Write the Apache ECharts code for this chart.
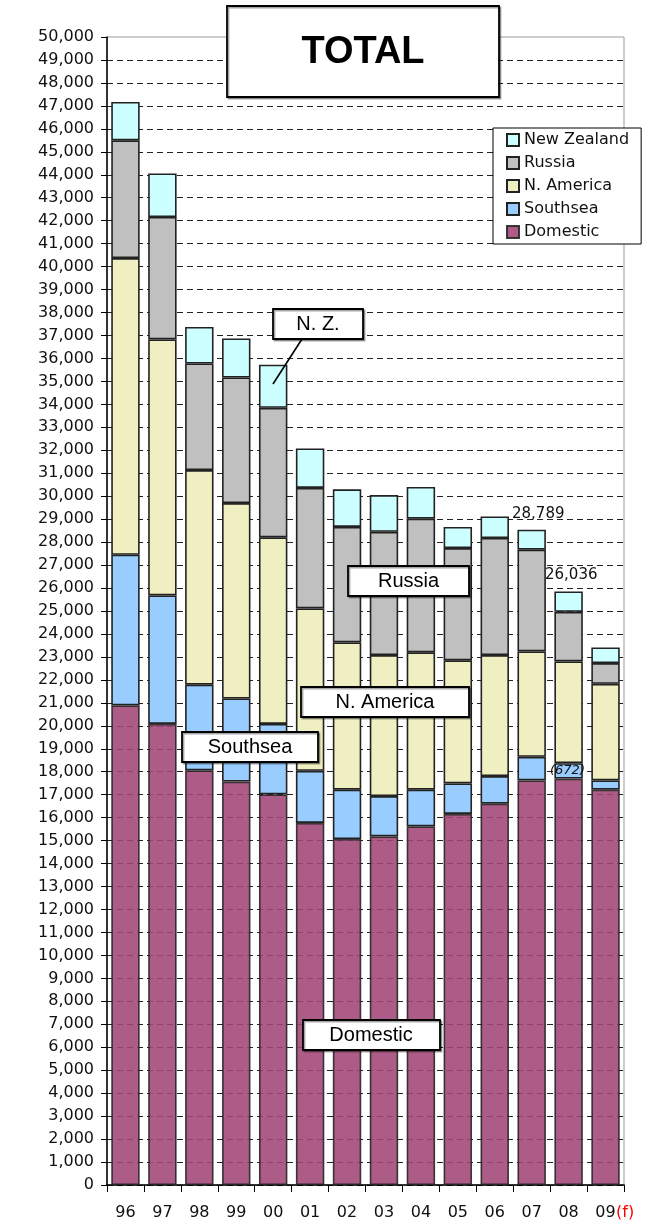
<!DOCTYPE html>
<html>
<head>
<meta charset="utf-8">
<script src="https://cdn.jsdelivr.net/npm/echarts@6/dist/echarts.min.js"></script>
<style>
html,body{margin:0;padding:0;background:#fff;}
#chart{width:653px;height:1229px;}
</style>
</head>
<body>
<div id="chart"></div>
<script>
// ---- data ----
var categories = ['96','97','98','99','00','01','02','03','04','05','06','07','08','09'];
var domestic   = [20890, 20080, 18060, 17570, 17010, 15770, 15070, 15180, 15620, 16160, 16610, 17620, 17700, 17220];
var southsea   = [6560, 5600, 3730, 3620, 3070, 2270, 2150, 1760, 1600, 1330, 1200, 1030, 672, 400];
var nAmerica   = [12920, 11150, 9350, 8510, 8130, 7070, 6410, 6140, 5980, 5360, 5270, 4590, 4430, 4210];
var russia     = [5130, 5330, 4640, 5470, 5640, 5250, 5030, 5370, 5820, 4890, 5100, 4430, 2160, 900];
var newZealand = [1670, 1900, 1590, 1700, 1880, 1720, 1640, 1600, 1380, 920, 940, 870, 890, 680];
var seriesNames = ['Domestic','Southsea','N. America','Russia','New Zealand'];
var legendOrder = ['New Zealand','Russia','N. America','Southsea','Domestic'];
var yMin = 0, yMax = 50000, yStep = 1000;

var chart = echarts.init(document.getElementById('chart'), null, {renderer:'canvas'});
var colors = ['#A24676','#99CCFF','#EFEFC2','#C0C0C0','#CCFFFF'];
var seriesData = [domestic, southsea, nAmerica, russia, newZealand];
var axisFont = 'DejaVu Sans';
var boxFont = 'Liberation Sans';

var series = seriesNames.map(function(n, i){
  return {
    name: n, type: 'bar', stack: 'total', data: seriesData[i],
    barCategoryGap: '23%',
    itemStyle: {color: colors[i], borderColor: '#222', borderWidth: 1.6, opacity: i === 0 ? 0.88 : 1},
    emphasis: {disabled: true}
  };
});

function box(x, y, w, h, label, cx, cy, size){
  return [
    {type:'rect', z:100, shape:{x:x, y:y, width:w, height:h},
     style:{fill:'#fff', stroke:'#000', lineWidth:1.8, shadowColor:'rgba(0,0,0,0.35)', shadowOffsetX:1.5, shadowOffsetY:1.5, shadowBlur:0}},
    {type:'text', z:101, x:cx, y:cy,
     style:{text:label, fill:'#000', font:(size||20)+'px "'+boxFont+'"', textAlign:'center', textVerticalAlign:'middle'}}
  ];
}

var graphics = [].concat(
  box(227, 6, 272, 91, '', 0, 0),
  [{type:'text', z:101, x:363, y:53, style:{text:'TOTAL', fill:'#000', font:'bold 38px "'+boxFont+'"', textAlign:'center', textVerticalAlign:'middle'}}],
  box(273, 309, 90, 30, 'N. Z.', 318, 324),
  [{type:'line', z:100, shape:{x1:302, y1:339, x2:273, y2:384}, style:{stroke:'#000', lineWidth:1.6}}],
  box(348, 566, 121, 30, 'Russia', 408.5, 581),
  box(301, 687, 168, 30, 'N. America', 385, 702),
  box(182, 732, 136, 30, 'Southsea', 250, 747),
  box(303, 1020, 137, 30, 'Domestic', 371, 1035),
  [
    {type:'text', z:101, x:512, y:514, style:{text:'28,789', fill:'#111', font:'15px "'+axisFont+'"', textAlign:'left', textVerticalAlign:'middle'}},
    {type:'text', z:101, x:545, y:575, style:{text:'26,036', fill:'#111', font:'15px "'+axisFont+'"', textAlign:'left', textVerticalAlign:'middle'}},
    {type:'text', z:101, x:550, y:771, style:{text:'(672)', fill:'#111', font:'italic 13px "'+axisFont+'"', textAlign:'left', textVerticalAlign:'middle'}},
    {type:'text', z:101, x:616, y:1213, style:{text:'(f)', fill:'#FF0000', font:'16px "'+axisFont+'"', textAlign:'left', textVerticalAlign:'middle'}}
  ]
);

chart.setOption({
  animation: false,
  backgroundColor: '#fff',
  grid: {left: 107, right: 29, top: 37, bottom: 44, show: true, borderColor: '#999', borderWidth: 1, backgroundColor: 'transparent'},
  legend: {
    data: legendOrder, orient: 'vertical', left: 493, top: 128,
    backgroundColor: '#fff', borderColor: '#000', borderWidth: 1,
    padding: [4, 12, 4, 13], itemWidth: 12, itemHeight: 12, itemGap: 7, itemTextGap: 6,
    icon: 'rect', selectedMode: false, z: 50,
    textStyle: {fontFamily: axisFont, fontSize: 16, color: '#111', lineHeight: 16}
  },
  xAxis: {
    type: 'category', data: categories,
    axisLine: {lineStyle: {color: '#000', width: 1.5}},
    axisTick: {show: true, length: 7, lineStyle: {color: '#000'}},
    axisLabel: {color: '#111', fontFamily: axisFont, fontSize: 16, margin: 20}
  },
  yAxis: {
    type: 'value', min: yMin, max: yMax, interval: yStep,
    axisLine: {show: true, lineStyle: {color: '#000', width: 1.5}},
    axisTick: {show: true, length: 6, lineStyle: {color: '#000'}},
    axisLabel: {color: '#111', fontFamily: axisFont, fontSize: 16, margin: 13,
      formatter: function(v){ return v.toLocaleString('en-US'); }},
    splitLine: {show: true, showMaxLine: false, lineStyle: {color: '#222', width: 1, type: [6, 4]}}
  },
  series: series,
  graphic: graphics
});
</script>
</body>
</html>
